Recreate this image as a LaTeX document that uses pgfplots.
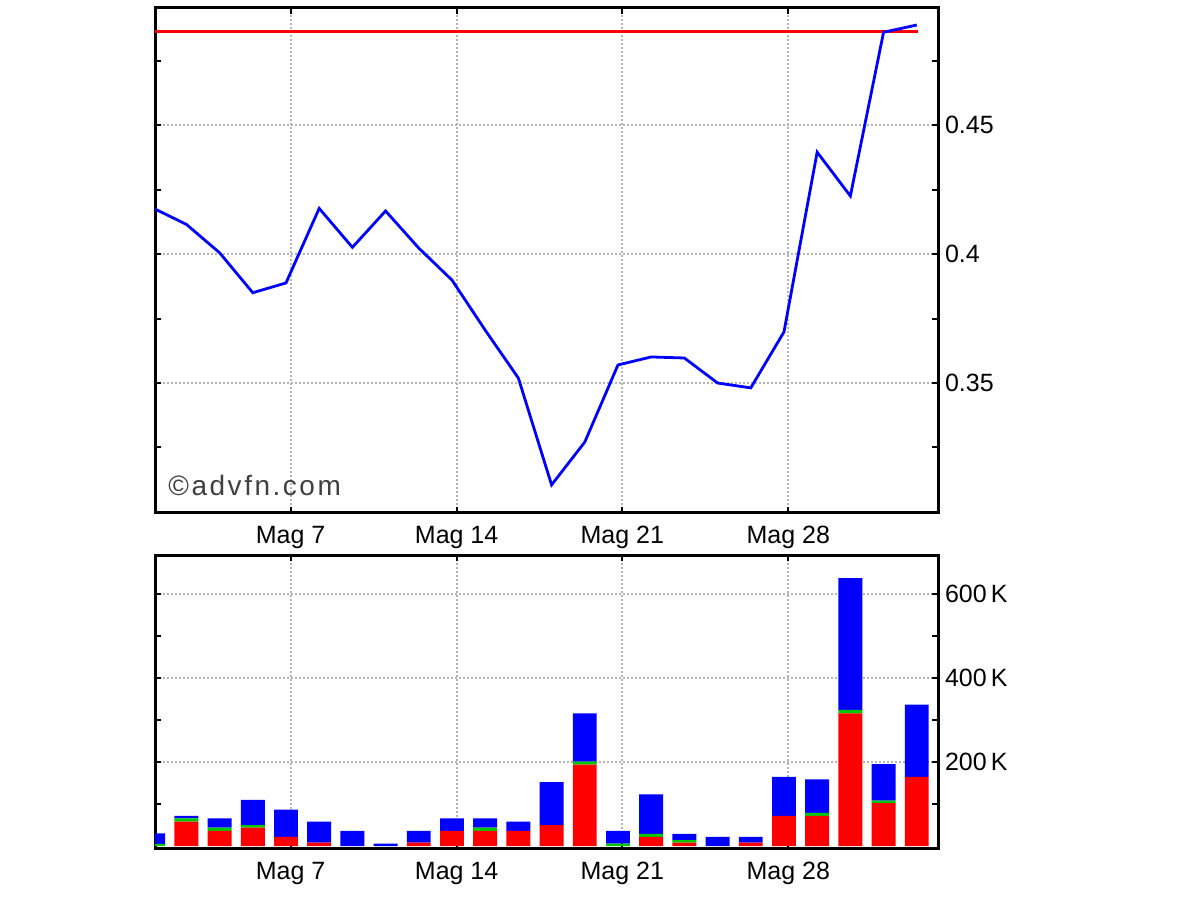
\documentclass[border=0pt]{standalone}
\usepackage{fontspec}
\setmainfont{Liberation Sans}
\usepackage{pgfplots}
\usepackage{pgfplotstable}
\pgfplotsset{compat=1.18}
\definecolor{gridgray}{RGB}{180,180,180}
\definecolor{vgreen}{RGB}{0,200,0}
\definecolor{vblue}{RGB}{0,0,255}
\definecolor{vred}{RGB}{255,0,0}

\pgfplotstableread{
k price
0 0.4178
1 0.4115
2 0.4005
3 0.3850
4 0.3888
5 0.4177
6 0.4026
7 0.4167
8 0.4023
9 0.3899
10 0.3705
11 0.3519
12 0.3105
13 0.3271
14 0.3570
15 0.3601
16 0.3597
17 0.3500
18 0.3481
19 0.3698
20 0.4395
21 0.4225
22 0.4860
23 0.4888
}\pricetable

\pgfplotstableread{
k red green blue
0 0 5 25
1 58 8 6
2 36 8 22
3 44 6 60
4 22 0 65
5 8 0 50
6 0 0 36
7 0 0 6
8 8 0 28
9 36 0 30
10 36 8 22
11 36 0 22
12 50 0 102
13 194 7 115
14 0 6 30
15 22 7 94
16 8 6 15
17 0 0 22
18 8 0 14
19 72 0 93
20 72 7 80
21 316 8 314
22 102 6 87
23 165 0 172
}\voltable

\pgfplotsset{
  chartstyle/.style={
    scale only axis, width=391.5pt,
    axis line style={line width=1.5pt},
    every tick/.style={black, line width=1pt},
    major tick length=3pt, minor tick length=3pt,
    tick align=inside,
    grid=major,
    major grid style={gridgray, line width=1pt, dash pattern=on 1pt off 1pt},
    xmin=0.054, xmax=23.64,
    xtick={4.14,9.14,14.13,19.13},
    xticklabels={Mag 7,Mag 14,Mag 21,Mag 28},
    yticklabel pos=right,
    tick label style={font=\fontsize{12.5}{14}\selectfont},
    xticklabel style={yshift=-3pt},
  }
}

\begin{document}
\begin{tikzpicture}
\path[use as bounding box] (0,0) rectangle (600pt,450pt);
% price panel
\begin{axis}[chartstyle,
  at={(77.5pt,193.5pt)}, anchor=south west,
  height=252.5pt,
  ymin=0.2996, ymax=0.4954,
  ytick={0.35,0.4,0.45},
  yticklabels={0.35,0.4,0.45},
  minor ytick={0.325,0.375,0.425,0.475},
]
\addplot[vred, line width=1.5pt] coordinates {(0,0.4862) (23.05,0.4862)};
\addplot[vblue, line width=1.4pt] table[x=k, y=price] {\pricetable};
\node[anchor=base west, text=black!75, inner sep=0pt,
  font=\fontsize{14}{16}\selectfont\addfontfeatures{LetterSpace=9}]
  at (rel axis cs:0.0166,0.0356) {©advfn.com};
\end{axis}
% volume panel
\begin{axis}[chartstyle,
  at={(77.5pt,25.5pt)}, anchor=south west,
  height=147pt,
  ymin=-7, ymax=693,
  ytick={200,400,600},
  yticklabels={200\,K,400\,K,600\,K},
  minor ytick={100,300,500},
  ybar stacked, bar width=0.72,
]
\addplot[fill=vred, draw=none] table[x=k, y=red] {\voltable};
\addplot[fill=vgreen, draw=none] table[x=k, y=green] {\voltable};
\addplot[fill=vblue, draw=none] table[x=k, y=blue] {\voltable};
\end{axis}
\end{tikzpicture}
\end{document}
